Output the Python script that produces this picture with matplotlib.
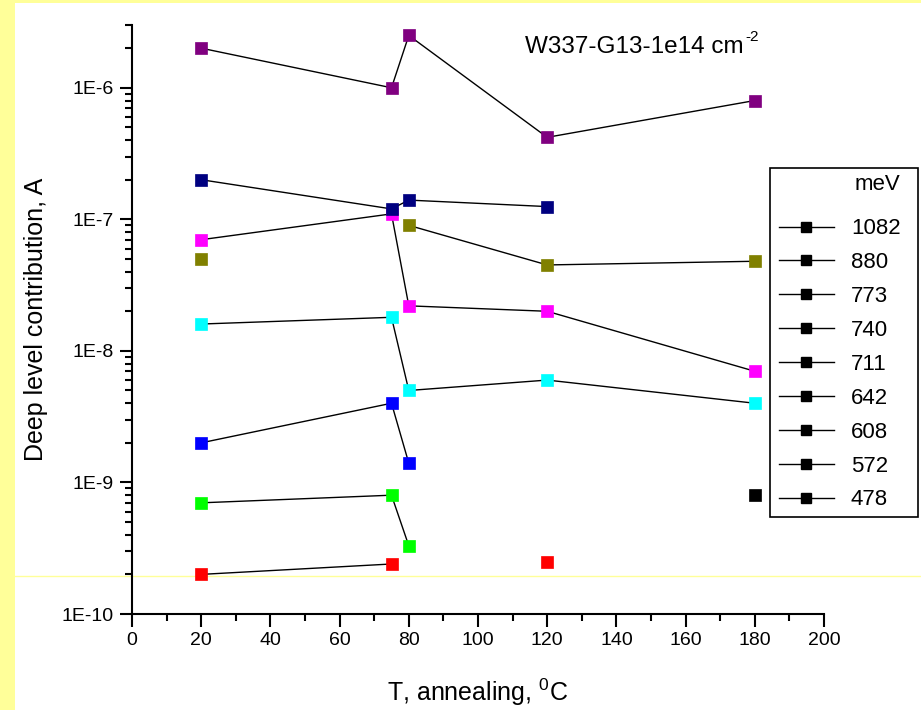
import numpy as np
import matplotlib
matplotlib.use("Agg")
import matplotlib.pyplot as plt
from matplotlib.lines import Line2D
from matplotlib.patches import Rectangle
from matplotlib.ticker import LogLocator, FuncFormatter, MultipleLocator, NullFormatter

plt.rcParams['font.family'] = ['Liberation Sans', 'DejaVu Sans']
plt.rcParams['mathtext.fontset'] = 'custom'
plt.rcParams['mathtext.rm'] = 'Liberation Sans'
plt.rcParams['mathtext.it'] = 'Liberation Sans'

# ---- data ----
temps = [20, 75, 80, 120, 180]
nan = np.nan
energies = ["1082", "880", "773", "740", "711", "642", "608", "572", "478"]
colors = ["#000000", "#FF0000", "#00FF00", "#0000FF", "#00FFFF",
          "#FF00FF", "#808000", "#000080", "#800080"]
s_black = [nan, nan, nan, nan, 8e-10]
s_red = [2e-10, 2.4e-10, nan, 2.5e-10, nan]
s_green = [7e-10, 8e-10, 3.3e-10, nan, nan]
s_blue = [2e-9, 4e-9, 1.4e-9, nan, nan]
s_cyan = [1.6e-8, 1.8e-8, 5e-9, 6e-9, 4e-9]
s_magenta = [7e-8, 1.1e-7, 2.2e-8, 2e-8, 7e-9]
s_olive = [5e-8, nan, 9e-8, 4.5e-8, 4.8e-8]
s_navy = [2e-7, 1.2e-7, 1.4e-7, 1.25e-7, nan]
s_purple = [2e-6, 1e-6, 2.5e-6, 4.2e-7, 8e-7]
series = [s_black, s_red, s_green, s_blue, s_cyan, s_magenta, s_olive, s_navy, s_purple]

W, H = 921, 710
fig = plt.figure(figsize=(W / 100, H / 100), dpi=100, facecolor="#FFFF99")
fig.add_artist(Rectangle((15 / W, 0), 1 - 15 / W, 1 - 3 / H, transform=fig.transFigure,
                         facecolor="white", edgecolor="none", zorder=-10))
fig.add_artist(Line2D([15 / W, 1], [(H - 576) / H] * 2, transform=fig.transFigure,
                      color="#FFFF99", lw=1, zorder=-5))

ax = fig.add_axes([132 / W, (H - 614) / H, (824 - 132) / W, (614 - 25) / H])
ax.patch.set_alpha(0)

for ys, c in zip(series, colors):
    ax.plot(temps, ys, color="black", lw=1, marker="s", ms=8,
            mfc=c, mec=c, mew=0.5)

ax.set_yscale("log")
ax.set_xlim(0, 200)
ax.set_ylim(1e-10, 3e-6)
ax.xaxis.set_major_locator(MultipleLocator(20))
ax.xaxis.set_minor_locator(MultipleLocator(10))
ax.yaxis.set_major_locator(LogLocator(base=10, numticks=20))
ax.yaxis.set_minor_locator(LogLocator(base=10, subs=np.arange(2, 10), numticks=100))
ax.yaxis.set_minor_formatter(NullFormatter())
ax.yaxis.set_major_formatter(FuncFormatter(lambda v, p: "1E%d" % round(np.log10(v))))

for s in ["top", "right"]:
    ax.spines[s].set_visible(False)
for s in ["left", "bottom"]:
    ax.spines[s].set_linewidth(1.5)
ax.tick_params(which="major", direction="out", length=9, width=1.5, labelsize=14, pad=4)
ax.tick_params(which="minor", direction="out", length=5, width=1.5)

ax.set_xlabel(r"T, annealing, $^{\mathregular{0}}$C", fontsize=18, labelpad=20)
ax.set_ylabel("Deep level contribution, A", fontsize=18, labelpad=10)

t = fig.text(525 / W, (H - 47) / H, "W337-G13-1e14 cm",
             fontsize=17.5, ha="left", va="center")
ax.annotate("-2", xy=(1, 1), xycoords=t, xytext=(1, -6), textcoords="offset points",
            fontsize=11, ha="left", va="bottom")

# legend frame
fig.add_artist(Rectangle((770 / W, (H - 517) / H), (918 - 770) / W, (517 - 168) / H,
                         transform=fig.transFigure, facecolor="white",
                         edgecolor="black", lw=1.2, zorder=3))
handles = [Line2D([], [], color="black", lw=1, marker="s", ms=7, mfc="black", mec="black")
           for _ in energies]
leg = fig.legend(handles, energies, loc="upper left",
                 bbox_to_anchor=(772 / W, (H - 167) / H), bbox_transform=fig.transFigure,
                 fontsize=16, title="meV", title_fontsize=16, frameon=False,
                 handlelength=2.5, handletextpad=0.75,
                 labelspacing=0.58, borderpad=0.3, borderaxespad=0, alignment="right")
leg.set_zorder(4)
# spacing between title and first entry
leg._legend_box.sep = 17

fig.savefig("out.png", dpi=100, facecolor=fig.get_facecolor())
